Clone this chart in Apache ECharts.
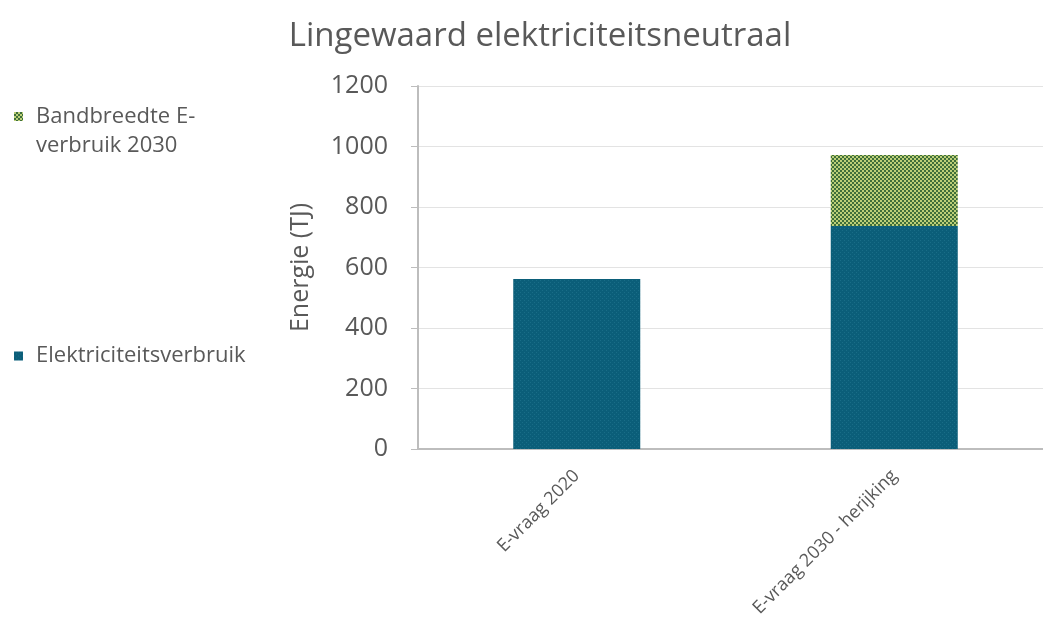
<!DOCTYPE html>
<html>
<head>
<meta charset="utf-8">
<script src="https://cdn.jsdelivr.net/npm/echarts@6/dist/echarts.min.js"></script>
<style>
  html, body { margin: 0; padding: 0; background: #ffffff; }
  #chart { width: 1043px; height: 622px; }
</style>
</head>
<body>
<div id="chart"></div>
<script>
// Categories and values (TJ)
const categories = ['E-vraag 2020', 'E-vraag 2030 - herijking'];
const elektriciteitsverbruik = [562, 737];
const bandbreedte = [null, 235];
const yTicks = [0, 200, 400, 600, 800, 1000, 1200];

const textGrey = '#595959';
const fontFamily = '"Open Sans", "Noto Sans", sans-serif';

// Fine dotted fill for the consumption bars
function dotPattern() {
  const c = document.createElement('canvas');
  c.width = 4; c.height = 4;
  const g = c.getContext('2d');
  g.fillStyle = '#0b5e79';
  g.fillRect(0, 0, 4, 4);
  g.fillStyle = '#196d87';
  g.fillRect(0, 0, 1, 1);
  g.fillRect(2, 2, 1, 1);
  return c;
}

// Checkerboard fill for the 2030 bandwidth
function checkerPattern() {
  const c = document.createElement('canvas');
  c.width = 4; c.height = 4;
  const g = c.getContext('2d');
  g.fillStyle = '#3f6f3a';
  g.fillRect(0, 0, 4, 4);
  g.fillStyle = '#bccf78';
  g.fillRect(0, 0, 2, 2);
  g.fillRect(2, 2, 2, 2);
  return c;
}

const tealFill = { image: dotPattern(), repeat: 'repeat' };
const checkerFill = { image: checkerPattern(), repeat: 'repeat' };

const chart = echarts.init(document.getElementById('chart'), null, { renderer: 'canvas' });

chart.setOption({
  animation: false,
  backgroundColor: '#ffffff',
  textStyle: { fontFamily: fontFamily },
  title: {
    text: 'Lingewaard elektriciteitsneutraal',
    left: 535,
    top: 15,
    textAlign: 'center',
    textStyle: { fontFamily: fontFamily, fontSize: 33, fontWeight: 'normal', color: textGrey }
  },
  legend: [
    {
      data: ['Bandbreedte E-verbruik 2030'],
      orient: 'vertical',
      left: 14,
      top: 73,
      padding: 0,
      icon: 'rect',
      itemWidth: 9,
      itemHeight: 9,
      // leading empty line keeps the swatch level with the first text line
      formatter: function () { return ' \nBandbreedte E-\nverbruik 2030'; },
      textStyle: {
        fontFamily: fontFamily, fontSize: 22, color: textGrey,
        lineHeight: 29, padding: [0, 0, 0, 8]
      }
    },
    {
      data: ['Elektriciteitsverbruik'],
      orient: 'vertical',
      left: 14,
      top: 342,
      padding: 0,
      icon: 'rect',
      itemWidth: 9,
      itemHeight: 9,
      textStyle: {
        fontFamily: fontFamily, fontSize: 22, color: textGrey,
        lineHeight: 28, padding: [0, 0, 0, 8]
      }
    }
  ],
  grid: { left: 418, top: 86, width: 635, height: 363, outerBoundsMode: 'none', containLabel: false },
  xAxis: {
    type: 'category',
    data: categories,
    axisLine: { show: true, lineStyle: { color: '#bdbdbd', width: 2 } },
    axisTick: { show: false },
    axisLabel: {
      rotate: 45,
      margin: 24,
      fontFamily: fontFamily,
      fontSize: 18,
      color: textGrey
    }
  },
  yAxis: {
    type: 'value',
    min: 0,
    max: 1200,
    interval: 200,
    name: 'Energie (TJ)',
    nameLocation: 'middle',
    nameGap: 105,
    nameTextStyle: { fontFamily: fontFamily, fontSize: 25, color: textGrey },
    axisLine: { show: true, lineStyle: { color: '#bdbdbd', width: 2 } },
    axisTick: { show: true, inside: false, length: 7, lineStyle: { color: '#bdbdbd', width: 1 } },
    axisLabel: {
      margin: 30,
      fontFamily: fontFamily,
      fontSize: 25,
      color: textGrey,
      formatter: function (v) { return yTicks.indexOf(v) >= 0 ? String(v) : ''; }
    },
    splitLine: { show: true, lineStyle: { color: '#e3e3e3', width: 1 } }
  },
  series: [
    {
      name: 'Elektriciteitsverbruik',
      type: 'bar',
      stack: 'totaal',
      barWidth: '40%',
      data: elektriciteitsverbruik,
      itemStyle: { color: tealFill },
      emphasis: { disabled: true }
    },
    {
      name: 'Bandbreedte E-verbruik 2030',
      type: 'bar',
      stack: 'totaal',
      barWidth: '40%',
      data: bandbreedte,
      itemStyle: { color: checkerFill },
      emphasis: { disabled: true }
    }
  ]
});
</script>
</body>
</html>
